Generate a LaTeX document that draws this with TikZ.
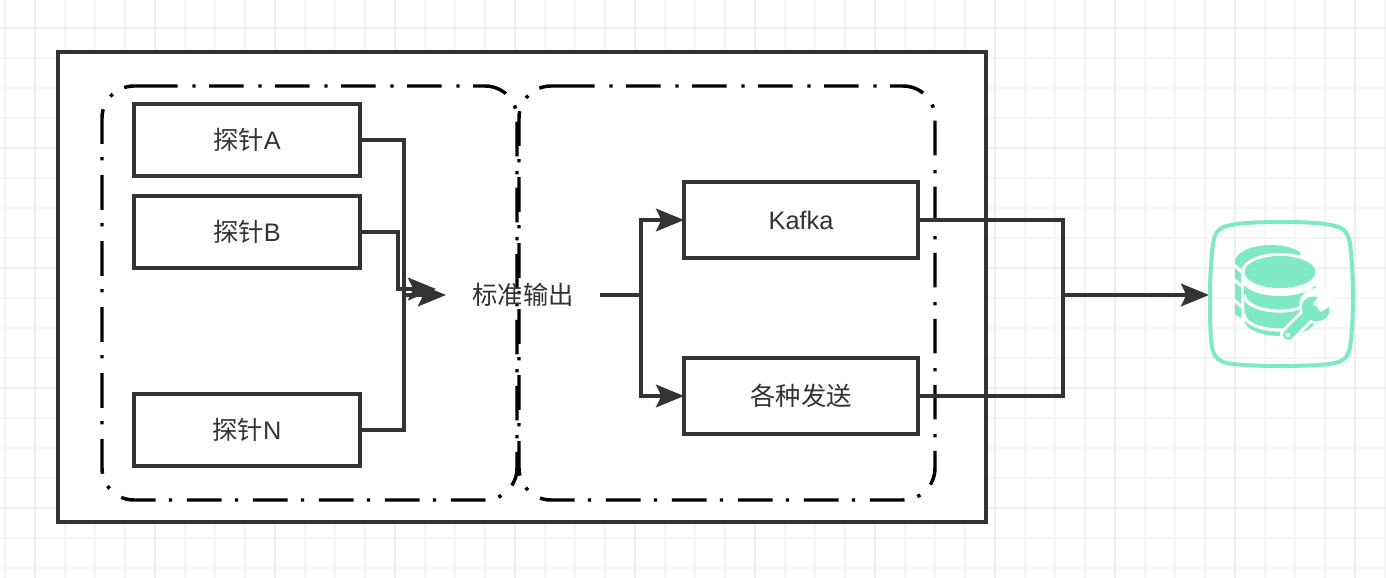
\documentclass[tikz,border=0pt]{standalone}
\usepackage{fontspec}
\setmainfont{Liberation Sans}
\newfontfamily\cjk{Noto Sans CJK SC}
\usetikzlibrary{arrows.meta}
\definecolor{ink}{HTML}{333333}
\definecolor{mint}{HTML}{7FE9C3}
\definecolor{gridminor}{HTML}{F5F5F5}
\definecolor{gridmajor}{HTML}{EEEEEE}
\tikzset{
    box/.style={rectangle, draw=ink, line width=2.7pt, fill=white, minimum width=169.5pt, minimum height=54pt, outer sep=0pt, text=ink, font=\fontsize{19}{23}\selectfont},
    plain/.style={rectangle, minimum width=115.5pt, minimum height=30pt, inner sep=0pt, outer sep=0pt, text=ink, font=\fontsize{19}{23}\selectfont},
    conn/.style={draw=ink, line width=2.7pt},
    head/.style={conn, -{Stealth[length=21pt, width=17pt, inset=4pt]}},
    group/.style={draw=black, line width=2.6pt, rounded corners=24pt, dash pattern=on 26pt off 11pt on 2.5pt off 10pt}
}

\begin{document}
\begin{tikzpicture}[x=0.75pt, y=-0.75pt]
    \useasboundingbox (0,0) rectangle (1386,578);

    % Draw grid
    \foreach \gx in {5,35,...,1385} {\draw[gridminor, line width=1.3pt] (\gx,0) -- (\gx,578);}
    \foreach \gy in {28,58,...,570} {\draw[gridminor, line width=1.3pt] (0,\gy) -- (1386,\gy);}
    \foreach \gx in {35,155,...,1385} {\draw[gridmajor, line width=1.3pt] (\gx,0) -- (\gx,578);}
    \foreach \gy in {28,148,...,570} {\draw[gridmajor, line width=1.3pt] (0,\gy) -- (1386,\gy);}

    % Draw frames
    \draw[draw=ink, line width=2.9pt, fill=white] (58,52) rectangle (986,522);
    \draw[group] (143,86) -- (517,86) -- (517,500) -- (102,500) -- (102,86) -- (143,86);
    \draw[group] (560,86) -- (935,86) -- (935,500) -- (519,500) -- (519,86) -- (560,86);

    % Draw nodes
    \node[box] (probeA) at (247,140) {{\cjk 探针}A};
    \node[box] (probeB) at (247,232) {{\cjk 探针}B};
    \node[box] (probeN) at (247,430) {{\cjk 探针}N};
    \node[plain] (stdout) at (523,295) {\cjk 标准输出};
    \node[box, minimum width=175.5pt, minimum height=57pt] (kafka) at (801,220) {Kafka};
    \node[box, minimum width=175.5pt, minimum height=57pt] (send) at (801,396) {\cjk 各种发送};
    \node[rectangle, minimum width=108pt, minimum height=108pt, inner sep=0pt, outer sep=0pt] (icon) at (1281,295) {};

    \coordinate (joinL) at (404,295);
    \coordinate (bendB) at (398,289);
    \coordinate (tipB) at (436,289);
    \coordinate (joinM) at (641,295);
    \coordinate (joinR) at (1063,295);

    % Draw connections
    \draw[conn] (probeA.east) -| (joinL);
    \draw[conn] (probeN.east) -| (joinL);
    \draw[head] (probeB.east) -| (bendB) -- (tipB);
    \draw[head] (joinL) -- (stdout.west);
    \draw[conn] (stdout.east) -- (joinM);
    \draw[head] (joinM) |- (kafka.west);
    \draw[head] (joinM) |- (send.west);
    \draw[conn] (kafka.east) -| (joinR);
    \draw[conn] (send.east) -| (joinR);
    \draw[head] (joinR) -- (icon.west);

    % Draw icon
    \draw[mint, line width=3pt] (1281,222) .. controls (1305,222) and (1325,223) .. (1335,226)
        .. controls (1344,228) and (1348,233) .. (1350,243)
        .. controls (1352,260) and (1353,280) .. (1353,295)
        .. controls (1353,315) and (1352,335) .. (1350,347)
        .. controls (1348,357) and (1344,361) .. (1335,363)
        .. controls (1325,365) and (1305,366) .. (1281,366)
        .. controls (1257,366) and (1237,365) .. (1227,363)
        .. controls (1218,361) and (1214,357) .. (1212,347)
        .. controls (1210,335) and (1210,315) .. (1210,295)
        .. controls (1210,280) and (1211,260) .. (1213,243)
        .. controls (1215,233) and (1218,228) .. (1227,226)
        .. controls (1237,223) and (1257,222) .. (1281,222) -- cycle;
    % back layer
    \begin{scope}
        \clip (1234,240) rectangle (1300,322);
        \fill[mint] (1235,262) arc[start angle=180, end angle=360, x radius=36, y radius=17] -- (1307,300) -- (1241,318) -- (1235,314) -- cycle;
    \end{scope}
    \fill[white] (1241,272) arc[start angle=180, end angle=360, x radius=39, y radius=19] -- (1319,325) -- (1241,325) -- cycle;
    \draw[white, line width=2.4pt] (1234,265) -- (1243,273);
    \draw[white, line width=2.4pt] (1234,280) -- (1243,287);
    \draw[white, line width=2.4pt] (1234,300) -- (1243,308);
    % front cylinder
    \fill[mint] (1244,272) -- (1315.5,272) -- (1315.5,320) arc[start angle=0, end angle=180, x radius=35.5, y radius=16] -- cycle;
    \fill[white] (1241,272) -- (1319,272) -- (1319,278) arc[start angle=0, end angle=180, x radius=39, y radius=18] -- cycle;
    \fill[mint] (1280,272) circle[x radius=35.5, y radius=16];
    \draw[white, line width=2.4pt] (1244,295) arc[start angle=180, end angle=0, x radius=35.5, y radius=16];
    \draw[white, line width=2.4pt] (1244,314) arc[start angle=180, end angle=0, x radius=35.5, y radius=16];
    % wrench
    \draw[white, line width=12pt, line cap=round] (1288,335) -- (1313,310);
    \fill[white] (1317,306) circle[radius=18];
    \draw[mint, line width=7.5pt, line cap=round] (1288,335) -- (1313,310);
    \fill[mint] (1318,297) .. controls (1308,295) and (1301,300) .. (1302,309) .. controls (1302,316) and (1310,322) .. (1318,321) .. controls (1327,320) and (1331,314) .. (1329,307) -- (1321,312) -- (1313,306) -- (1313,303) -- cycle;
    \fill[white] (1288,335) circle[radius=2.2];
\end{tikzpicture}
\end{document}
